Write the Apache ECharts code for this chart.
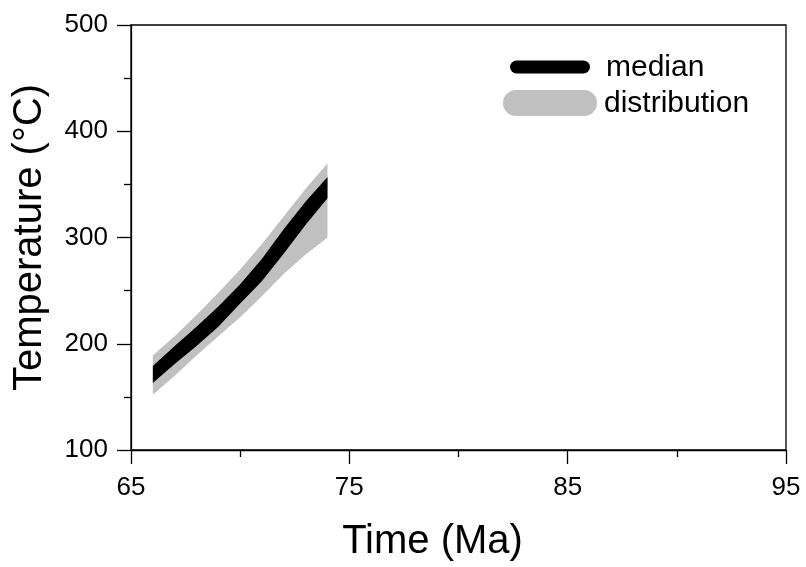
<!DOCTYPE html>
<html>
<head>
<meta charset="utf-8">
<script src="https://cdn.jsdelivr.net/npm/echarts@6/dist/echarts.min.js"></script>
<style>
  html, body { margin: 0; padding: 0; background: #fff; }
  #chart { width: 806px; height: 567px; }
</style>
</head>
<body>
<div id="chart"></div>
<script>
// Time steps (Ma) and temperature envelopes (°C)
const timeMa = [66, 67, 68, 69, 70, 71, 72, 73, 74];
const medianLow  = [163, 181, 198, 216, 238, 259, 285, 312, 337];
const medianHigh = [179, 198, 216, 235, 256, 280, 308, 334, 357];
const distLow    = [152, 170, 189, 207, 225, 245, 266, 284, 300];
const distHigh   = [189, 207, 227, 248, 270, 294, 320, 346, 370];

const xTicks = [65, 75, 85, 95];
const yTicks = [100, 200, 300, 400, 500];

const FONT = 'Liberation Sans, Arial, sans-serif';
const GRAY = '#c0c0c0';

// Each band is one row per time step: [time, low, high]
const rows = (lo, hi) => timeMa.map((t, i) => [t, lo[i], hi[i]]);

// Draws a filled envelope between the low and high values of all rows
function bandSeries(name, data, color, z) {
  return {
    name, type: 'custom', data, z, silent: true, clip: true,
    encode: { x: 0, y: [1, 2] },
    renderItem(params, api) {
      if (params.dataIndex !== 0) return null;
      const upper = data.map(r => api.coord([r[0], r[2]]));
      const lower = data.map(r => api.coord([r[0], r[1]])).reverse();
      return {
        type: 'polygon',
        shape: { points: upper.concat(lower) },
        style: { fill: color, stroke: null }
      };
    }
  };
}

const chart = echarts.init(document.getElementById('chart'), null, { renderer: 'canvas' });

const axisCommon = {
  axisLine: { show: true, lineStyle: { color: '#000', width: 1.3 } },
  axisTick: { show: true, inside: false, length: 14, lineStyle: { color: '#000', width: 1.3 } },
  minorTick: { show: true, splitNumber: 2, length: 7, lineStyle: { color: '#000', width: 1.3 } },
  splitLine: { show: false }
};

chart.setOption({
  animation: false,
  backgroundColor: '#fff',
  grid: {
    left: 131, right: 20, top: 25, bottom: 112,
    show: true, borderColor: '#000', borderWidth: 1.3, backgroundColor: 'transparent'
  },
  xAxis: Object.assign({
    type: 'value', min: xTicks[0], max: xTicks[xTicks.length - 1], interval: 10,
    name: 'Time (Ma)', nameLocation: 'middle', nameGap: 92,
    nameTextStyle: { fontFamily: FONT, fontSize: 40, color: '#000', verticalAlign: 'middle',
                     padding: [0, 52, 0, 0] },
    axisLabel: { fontFamily: FONT, fontSize: 26, color: '#000', margin: 25 }
  }, axisCommon),
  yAxis: Object.assign({
    type: 'value', min: yTicks[0], max: yTicks[yTicks.length - 1], interval: 100,
    name: 'Temperature (°C)', nameLocation: 'middle', nameGap: 101, nameRotate: 90,
    nameTextStyle: { fontFamily: FONT, fontSize: 40, color: '#000', verticalAlign: 'middle' },
    axisLabel: { fontFamily: FONT, fontSize: 26, color: '#000', margin: 23 }
  }, axisCommon),
  series: [
    bandSeries('distribution', rows(distLow, distHigh), GRAY, 3),
    bandSeries('median', rows(medianLow, medianHigh), '#000', 4)
  ],
  graphic: [
    { type: 'line', shape: { x1: 516.5, y1: 67, x2: 583.5, y2: 67 },
      style: { stroke: '#000', lineWidth: 13, lineCap: 'round' } },
    { type: 'line', shape: { x1: 516, y1: 103, x2: 584, y2: 103 },
      style: { stroke: GRAY, lineWidth: 26, lineCap: 'round' } },
    { type: 'text', x: 606, y: 68,
      style: { text: 'median', font: '30px ' + FONT, fill: '#000', verticalAlign: 'middle' } },
    { type: 'text', x: 604, y: 104,
      style: { text: 'distribution', font: '30px ' + FONT, fill: '#000', verticalAlign: 'middle' } }
  ]
});
</script>
</body>
</html>
